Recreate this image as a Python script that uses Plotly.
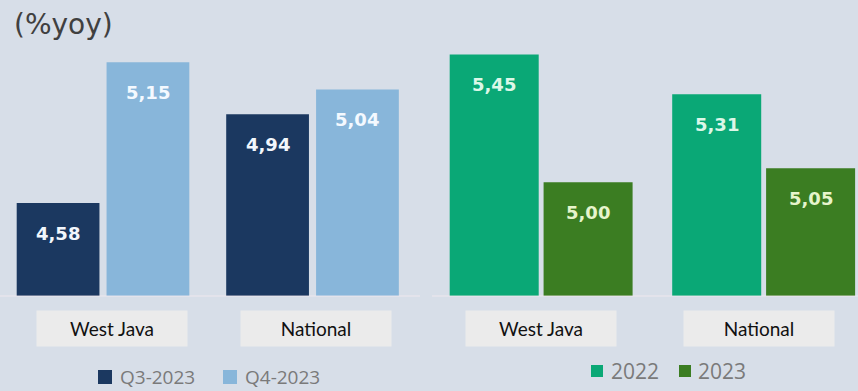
import plotly.graph_objects as go

# --- data -------------------------------------------------------------
categories = ["West Java", "National"]
q3_2023 = [4.58, 4.94]
q4_2023 = [5.15, 5.04]
growth_2022 = [5.45, 5.31]
growth_2023 = [5.00, 5.05]

left_series = ["Q3-2023", "Q4-2023"]
right_series = ["2022", "2023"]

# --- styling ----------------------------------------------------------
W, H = 858, 391
BG = "#d7dee8"
NAVY, LIGHT_BLUE = "#1b3860", "#88b6da"
GREEN, DARK_GREEN = "#0aa876", "#3b7d22"
PLOT_BOTTOM = 296  # pixel row of the bar baseline

def fmt(v):
    return f"{v:.2f}".replace(".", ",")

def py(pix):
    """pixel row -> paper y"""
    return (PLOT_BOTTOM - pix) / PLOT_BOTTOM

x_pos = list(range(len(categories)))

fig = go.Figure()

panels = [
    dict(xa="x", ya="y", series=left_series, values=[q3_2023, q4_2023],
         colors=[NAVY, LIGHT_BLUE], text=["#f2f6fc", "#f4f9ff"],
         width=0.395, offsets=[-0.412, 0.017], box_shift=[9, 3]),
    dict(xa="x2", ya="y2", series=right_series, values=[growth_2022, growth_2023],
         colors=[GREEN, DARK_GREEN], text=["#dcf7e8", "#e6f4cc"],
         width=0.40, offsets=[-0.41, 0.012], box_shift=[0, -4]),
]

annotations = []
for p in panels:
    for name, vals, col, tcol, off in zip(p["series"], p["values"], p["colors"],
                                          p["text"], p["offsets"]):
        fig.add_trace(go.Bar(
            x=x_pos, y=vals, name=name, marker_color=col, marker_line_width=0,
            width=p["width"], offset=off, xaxis=p["xa"], yaxis=p["ya"],
            showlegend=False, hoverinfo="skip",
        ))
        for xi, v in zip(x_pos, vals):
            annotations.append(dict(
                x=xi + off + p["width"] / 2, y=v, xref=p["xa"], yref=p["ya"],
                text=f"<b>{fmt(v)}</b>", showarrow=False, yanchor="middle",
                yshift=-30, font=dict(family="DejaVu Sans", size=18, color=tcol),
            ))
    # category label boxes under each group
    for xi, cat, sh in zip(x_pos, categories, p["box_shift"]):
        annotations.append(dict(
            x=xi, y=py(328), xref=p["xa"], yref="paper", text=cat,
            showarrow=False, width=150, height=35, borderpad=0, xshift=sh,
            bgcolor="#ebebeb", xanchor="center", yanchor="middle",
            font=dict(family="Lato", size=19, color="#111111"),
        ))

# title
annotations.append(dict(
    x=12 / W, y=py(25), xref="paper", yref="paper", text="(%yoy)",
    showarrow=False, xanchor="left", yanchor="middle",
    font=dict(family="DejaVu Sans", size=28, color="#404040"),
))

# legends (colour swatch + label)
shapes = []
legend_items = [
    (98, 377, 14, NAVY, left_series[0], 118, 19),
    (223, 377, 14, LIGHT_BLUE, left_series[1], 243, 19),
    (591, 371, 12, GREEN, right_series[0], 609, 21),
    (679, 371, 12, DARK_GREEN, right_series[1], 696, 21),
]
for sx, cy, sz, col, label, tx, fs in legend_items:
    shapes.append(dict(
        type="rect", xref="paper", yref="paper",
        x0=sx / W, x1=(sx + sz) / W, y0=py(cy + sz / 2), y1=py(cy - sz / 2),
        fillcolor=col, line_width=0,
    ))
    annotations.append(dict(
        x=tx / W, y=py(cy), xref="paper", yref="paper", text=label,
        showarrow=False, xanchor="left", yanchor="middle",
        font=dict(family="Open Sans", size=fs, color="#7a7a7a"),
    ))

# faint baselines
for x0, x1 in [(0, 420), (432, W)]:
    shapes.append(dict(
        type="line", xref="paper", yref="paper", x0=x0 / W, x1=x1 / W,
        y0=0, y1=0, line=dict(color="rgba(245,235,240,0.8)", width=1),
    ))

axis_off = dict(showgrid=False, zeroline=False, showticklabels=False,
                ticks="", showline=False, fixedrange=True)

fig.update_layout(
    width=W, height=H,
    margin=dict(l=0, r=0, t=0, b=H - PLOT_BOTTOM),
    paper_bgcolor=BG, plot_bgcolor=BG,
    barmode="overlay",
    xaxis=dict(domain=[0, 0.5], range=[-0.4917, 1.556], **axis_off),
    yaxis=dict(range=[4.204, 5.402], **axis_off),
    xaxis2=dict(domain=[0.5, 1.0], range=[-0.503, 1.425], anchor="y2", **axis_off),
    yaxis2=dict(range=[4.6, 5.642], anchor="x2", **axis_off),
    annotations=annotations,
    shapes=shapes,
    showlegend=False,
)

fig.write_html("out.html")
